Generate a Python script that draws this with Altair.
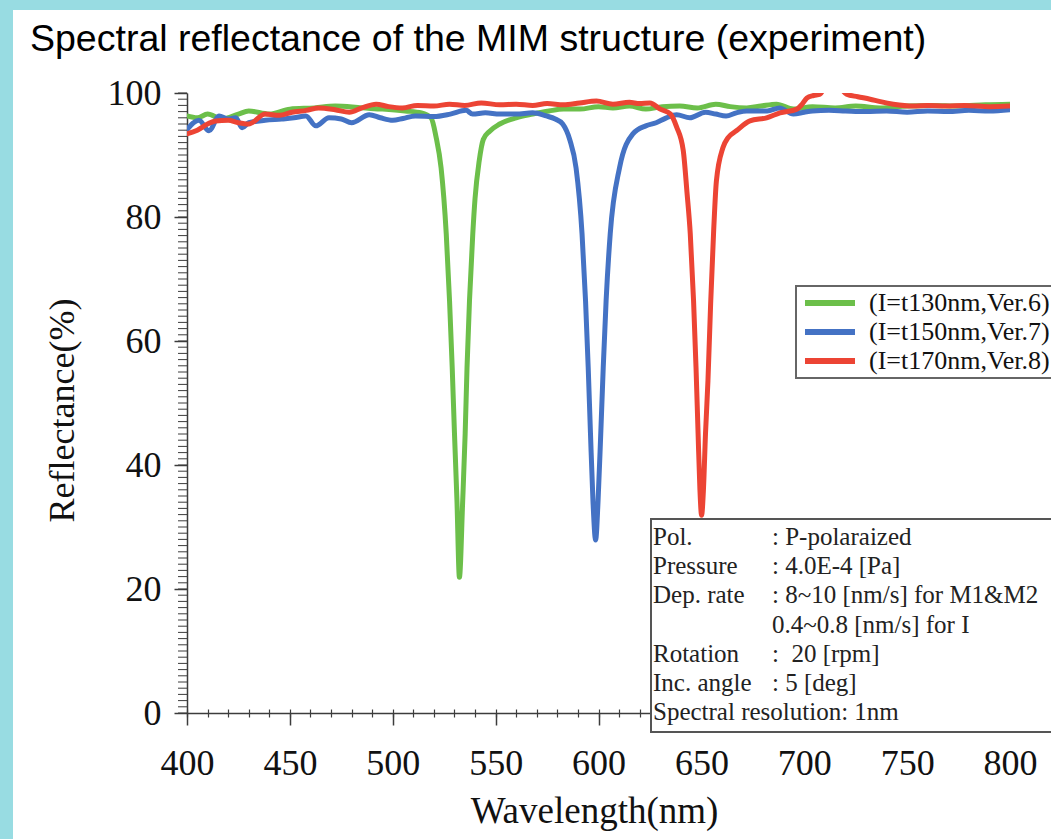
import altair as alt
import pandas as pd

TITLE = "Spectral reflectance of the MIM structure (experiment)"
SERIES = ["(I=t130nm,Ver.6)", "(I=t150nm,Ver.7)", "(I=t170nm,Ver.8)"]
COLORS = ["#6cbf4a", "#4472c4", "#ec4434"]

green_wl = [400, 405, 410, 417, 425, 430, 440, 450, 462, 472, 485, 495, 506, 514, 518.6,
            521, 523.5, 526, 527.6, 528.9, 530, 531.2, 532.4, 534, 535.2, 536.1, 537.3,
            538.9, 540, 542, 544, 547, 552, 560, 568, 576, 583, 591, 600, 607, 615, 623,
            631, 639.5, 648, 657, 664, 672, 679, 686.5, 694.7, 704, 715, 725, 737, 750,
            762, 775, 788, 800]
green_r = [96.3, 96.0, 96.6, 95.8, 96.6, 97.1, 96.6, 97.4, 97.6, 97.9, 97.6, 97.4, 97.1, 96.8, 96.0,
           93.0, 87.9, 77.3, 66.5, 55.7, 45.1, 34.3, 21.9, 34.3, 45.1, 55.7, 66.5,
           77.3, 83.0, 89.0, 92.5, 93.8, 95.0, 96.0, 96.6, 97.1, 97.4, 97.4, 97.8, 97.6, 97.9, 97.4,
           97.8, 97.9, 97.6, 98.2, 97.8, 97.6, 97.9, 98.2, 97.4, 97.8, 97.6, 97.9, 97.6, 97.9,
           98.0, 97.9, 98.1, 98.2]

blue_wl = [400, 405.8, 410.7, 415.6, 420, 423.7, 426.8, 430, 438, 446, 452, 457.8, 462.6, 469,
           475, 480, 488.6, 494, 500, 505, 511, 520, 528, 535.6, 538.8, 545, 552, 560, 568,
           574.6, 579, 582.6, 586, 589.1, 592, 593.7, 595, 596.1, 597.3, 598.6, 599.8, 601.1,
           602.3, 603.7, 605.7, 610.2, 616.7, 623, 628, 633, 638, 644.4, 652, 657, 662, 667,
           672, 682, 688, 694.7, 700, 704, 712, 720, 730, 740, 750, 760, 770, 780, 790, 800]
blue_r = [94.1, 95.6, 93.9, 96.3, 95.8, 96.0, 94.4, 95.2, 95.6, 95.8, 96.0, 96.3, 94.7, 96.0,
          95.8, 95.2, 96.5, 96.0, 95.6, 95.9, 96.3, 96.2, 96.6, 97.2, 96.6, 96.8, 96.6, 96.6, 96.8,
          96.3, 95.8, 95.0, 92.5, 87.9, 77.3, 66.5, 55.7, 45.1, 34.3, 27.9, 34.3, 45.1,
          55.7, 66.5, 77.3, 87.9, 93.4, 94.7, 95.2, 96.0, 96.5, 96.0, 96.9, 96.6, 96.3, 96.8,
          97.1, 97.1, 97.6, 96.6, 96.9, 97.1, 97.2, 97.1, 97.0, 97.1, 96.9, 97.1, 97.0, 97.2, 97.1, 97.3]

red_wl = [400, 405, 410, 413.9, 420, 425, 430, 438, 445, 451, 458, 464, 472, 478.9, 485, 491.9,
          498, 504.7, 512, 520, 527.6, 535, 543, 552, 560, 568, 575, 583, 590.8, 599, 607, 615,
          620, 625, 630, 635, 638, 641.2, 643, 644.6, 646.2, 647.4, 648.4, 649.3, 650.1, 651,
          652, 653.2, 654.5, 656, 657.3, 660.5, 663, 667, 673.6, 681.7, 688.2, 696.4, 699,
          701.3, 704.5, 707.7, 710, 714, 717, 720.6, 726, 732, 737, 743.3, 753, 760, 769, 778,
          790, 800]
red_r = [93.4, 94.0, 95.0, 95.5, 95.6, 95.2, 95.0, 96.6, 96.4, 96.9, 97.2, 97.6, 97.3, 96.9, 97.6, 98.2,
         97.8, 97.6, 98.0, 97.9, 98.2, 98.0, 98.4, 98.1, 98.2, 98.0, 98.3, 98.1, 98.4, 98.7, 98.2, 98.5,
         98.3, 98.4, 97.4, 96.6, 94.5, 90.7, 84.0, 77.3, 66.5, 55.7, 45.1, 36.0, 31.9, 36.0,
         45.0, 53.6, 66.0, 78.0, 85.8, 91.2, 92.8, 93.9, 95.5, 96.0, 96.8, 97.4, 98.2,
         99.2, 99.6, 99.8, 101.0, 101.5, 101.0, 99.8, 99.4, 99.0, 98.6, 98.2, 97.9, 98.0, 97.9, 98.0,
         97.8, 97.9]

X_TICKS = list(range(400, 801, 50))
X_MINOR = list(range(400, 801, 10))
Y_TICKS = list(range(0, 101, 20))
Y_MINOR = list(range(0, 101, 1))

INFO_LABELS = ["Pol.", "Pressure", "Dep. rate", "", "Rotation", "Inc. angle",
               "Spectral resolution: 1nm"]
INFO_VALUES = [": P-polaraized", ": 4.0E-4 [Pa]", ": 8~10 [nm/s] for M1&M2",
               "0.4~0.8 [nm/s] for I", ":\u00a0\u00a020 [rpm]", ": 5 [deg]", ""]

# layout (pixels)
PAGE_W, PAGE_H = 1051, 839
LEFT, TOP = 187, 93
W, H = 823, 620
TEAL = "#98dce2"
AX = "#3c3c3c"
SERIF = "Liberation Serif"
TXT = "#111111"

frames = []
for name, wl, r in [(SERIES[0], green_wl, green_r), (SERIES[1], blue_wl, blue_r),
                    (SERIES[2], red_wl, red_r)]:
    frames.append(pd.DataFrame({"series": name, "wavelength": wl, "reflectance": r}))
df = pd.concat(frames, ignore_index=True)

xscale = alt.Scale(domain=[400, 800], nice=False, zero=False)
yscale = alt.Scale(domain=[0, 100], nice=False, zero=False)

x_major = alt.Axis(values=X_TICKS, orient="bottom", format="d", grid=False,
                   labelFont=SERIF, labelFontSize=36, labelColor=TXT, labelFlush=False,
                   labelBaseline="alphabetic", labelPadding=49,
                   tickSize=12, tickWidth=1.5, tickColor=AX,
                   domainColor=AX, domainWidth=1.5,
                   title="Wavelength(nm)", titleFont=SERIF, titleFontSize=37,
                   titleFontWeight="normal", titleColor=TXT, titleBaseline="alphabetic",
                   titleX=407, titleY=109)
y_major = alt.Axis(values=Y_TICKS, orient="left", format="d", grid=False,
                   labelFont=SERIF, labelFontSize=36, labelColor=TXT, labelPadding=13,
                   labelFlush=False,
                   tickSize=13, tickWidth=1.5, tickColor=AX,
                   domainColor=AX, domainWidth=1.5,
                   title="Reflectance(%)", titleFont=SERIF, titleFontSize=36,
                   titleFontWeight="normal", titleColor=TXT, titleAngle=270,
                   titleBaseline="middle", titleAlign="center", titleX=-125, titleY=317)
x_minor = alt.Axis(values=X_MINOR, orient="bottom", labels=False, domain=False, grid=False,
                   tickSize=8, offset=-4, tickColor=AX, tickWidth=1.2, title=None)

one = pd.DataFrame({"k": [0]})

strip_top = alt.Chart(one).mark_rect(color=TEAL).encode(
    x=alt.value(-LEFT), x2=alt.value(PAGE_W - LEFT),
    y=alt.value(-TOP), y2=alt.value(10 - TOP))
strip_left = alt.Chart(one).mark_rect(color=TEAL).encode(
    x=alt.value(-LEFT), x2=alt.value(13 - LEFT),
    y=alt.value(-TOP), y2=alt.value(PAGE_H - TOP))

lines = alt.Chart(df).mark_line(strokeWidth=5, clip=True, strokeJoin="round",
                                strokeCap="round", interpolate="monotone").encode(
    x=alt.X("wavelength:Q", scale=xscale, axis=x_major),
    y=alt.Y("reflectance:Q", scale=yscale, axis=y_major),
    color=alt.Color("series:N", scale=alt.Scale(domain=SERIES, range=COLORS),
                    legend=alt.Legend(title=None, orient="none", legendX=609, legendY=192,
                                      symbolType="M-0.9,0H4.1", symbolSize=400,
                                      symbolStrokeWidth=6, labelFont=SERIF,
                                      labelFontSize=26, labelColor=TXT, labelLimit=500,
                                      labelOffset=42, rowPadding=3, padding=5)),
    detail="series:N",
)

minor_x = alt.Chart(df).mark_line(strokeOpacity=0).encode(
    x=alt.X("wavelength:Q", scale=xscale, axis=x_minor),
    y=alt.Y("reflectance:Q", scale=yscale, axis=None),
    detail="series:N",
)

minor_y = alt.Chart(pd.DataFrame({"v": Y_MINOR})).mark_rule(
    color=AX, strokeWidth=1).encode(
    y=alt.Y("v:Q", scale=yscale, axis=None),
    x=alt.value(-9), x2=alt.value(0),
)

legend_box = alt.Chart(one).mark_rect(fill="white", stroke="#666666", strokeWidth=2).encode(
    x=alt.value(796 - LEFT), x2=alt.value(1085 - LEFT),
    y=alt.value(286 - TOP), y2=alt.value(378 - TOP))

box = alt.Chart(one).mark_rect(fill="white", stroke="#555555", strokeWidth=2).encode(
    x=alt.value(651 - LEFT), x2=alt.value(1085 - LEFT),
    y=alt.value(519 - TOP), y2=alt.value(732 - TOP))

info_layers = []
for i, (lab, val) in enumerate(zip(INFO_LABELS, INFO_VALUES)):
    base_y = 545 + i * 29.2 - TOP
    for txt, x0 in [(lab, 653), (val, 772)]:
        if txt:
            info_layers.append(
                alt.Chart(pd.DataFrame({"t": [txt]})).mark_text(
                    align="left", baseline="alphabetic", font=SERIF, fontSize=25,
                    color="#222222").encode(
                    x=alt.value(x0 - LEFT), y=alt.value(base_y), text="t:N"))

title = alt.Chart(pd.DataFrame({"t": [TITLE]})).mark_text(
    align="left", baseline="alphabetic", font="Liberation Sans", fontSize=37.5,
    color="black").encode(x=alt.value(30 - LEFT), y=alt.value(51 - TOP), text="t:N")

chart = alt.layer(strip_top, strip_left, lines, minor_x, minor_y, legend_box, box,
                  *info_layers, title).resolve_axis(
    x="independent", y="independent"
).properties(
    width=W, height=H,
    autosize=alt.AutoSizeParams(type="none"),
    padding={"left": LEFT, "top": TOP, "right": PAGE_W - LEFT - W, "bottom": PAGE_H - TOP - H},
    background="white",
).configure_view(stroke=None)

chart.save("out.html", embed_options={"renderer": "svg", "actions": False})
